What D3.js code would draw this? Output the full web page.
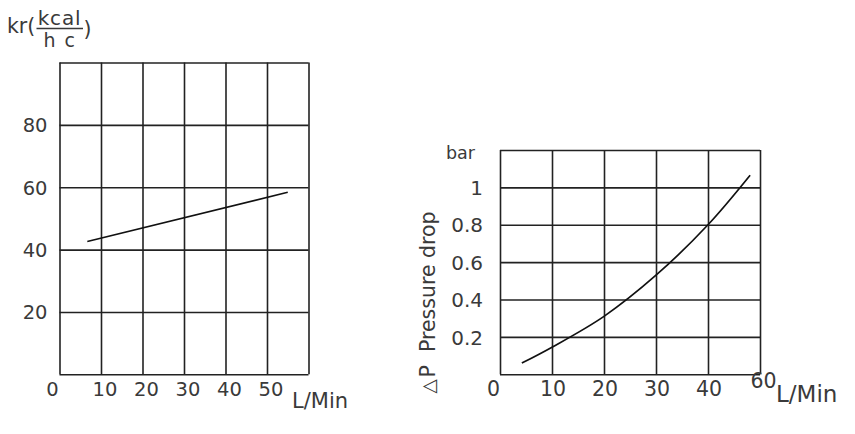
<!DOCTYPE html>
<html><head><meta charset="utf-8">
<script src="https://cdn.jsdelivr.net/npm/d3@7"></script>
<style>
body{margin:0;background:#fff}
svg text{font-family:"DejaVu Sans",sans-serif;fill:#3a3a3a}
</style>
</head><body><svg id="c" width="855" height="434"></svg>
<script>
// ---- Left chart: kr vs flow ----
const krFlow = [6.7, 55];
const krValue = [42.6, 58.4];
const leftXTicks = [0, 10, 20, 30, 40, 50];
const leftXLabels = ["0", "10", "20", "30", "40", "50"];
const leftYTicks = [20, 40, 60, 80];
const leftYLabels = ["20", "40", "60", "80"];

// ---- Right chart: pressure drop vs flow ----
const dropFlow = [4.2, 10, 20, 30, 40, 48.1];
const dropBar = [0.06, 0.145, 0.31, 0.53, 0.8, 1.065];
const rightXTicks = [0, 10, 20, 30, 40, 50];
const rightXLabels = ["0", "10", "20", "30", "40", "60"];
const rightYTicks = [0.2, 0.4, 0.6, 0.8, 1.0];
const rightYLabels = ["0.2", "0.4", "0.6", "0.8", "1"];

const svg = d3.select("#c");
const LINE = "#222";

function grid(g, x, y, xs, ys) {
  const [x0, x1] = x.range(), [y0, y1] = y.range();
  g.append("g").attr("transform", `translate(0,${y0})`)
    .call(d3.axisBottom(x).tickValues(xs).tickSize(-(y0 - y1)).tickSizeOuter(0).tickFormat(""))
    .call(s => s.select(".domain").remove())
    .selectAll("line").attr("stroke", LINE).attr("stroke-width", 1.6);
  g.append("g").attr("transform", `translate(${x0},0)`)
    .call(d3.axisLeft(y).tickValues(ys).tickSize(-(x1 - x0)).tickSizeOuter(0).tickFormat(""))
    .call(s => s.select(".domain").remove())
    .selectAll("line").attr("stroke", LINE).attr("stroke-width", 1.6);
}

// ================= LEFT =================
{
  const x = d3.scaleLinear().domain([0, 60]).range([59.5, 308.5]);
  const y = d3.scaleLinear().domain([0, 100]).range([374.3, 62.5]);
  const g = svg.append("g");
  grid(g, x, y, d3.range(0, 61, 10), d3.range(0, 101, 20));

  const xa = g.append("g").attr("transform", `translate(0,${y(0)})`)
    .call(d3.axisBottom(x).tickValues(leftXTicks).tickSize(0)
      .tickFormat((d, i) => leftXLabels[i]));
  xa.select(".domain").remove();
  xa.selectAll("text").attr("y", 21.5).attr("dy", null)
    .attr("dx", (d, i) => i === 0 ? -7.5 : 3.5)
    .style("font-size", "19.5px").style("font-family", "DejaVu Sans").attr("fill", "#3a3a3a");

  const ya = g.append("g").attr("transform", `translate(${x(0)},0)`)
    .call(d3.axisLeft(y).tickValues(leftYTicks).tickSize(0)
      .tickFormat((d, i) => leftYLabels[i]));
  ya.select(".domain").remove();
  ya.selectAll("text").attr("x", -12).attr("dy", "0.36em")
    .style("font-size", "19.5px").style("font-family", "DejaVu Sans").attr("fill", "#3a3a3a");

  const pts = krFlow.map((f, i) => [f, krValue[i]]);
  g.append("path").attr("d", d3.line().x(d => x(d[0])).y(d => y(d[1]))(pts))
    .attr("fill", "none").attr("stroke", "#111").attr("stroke-width", 1.7);

  g.append("text").attr("x", 292).attr("y", 408).style("font-size", "21px").text("L/Min");

  // title kr(kcal / h c)
  g.append("text").attr("x", 7).attr("y", 33).style("font-size", "20.5px").text("kr(");
  g.append("text").attr("x", 59.5).attr("y", 24.5).attr("text-anchor", "middle").style("font-size", "20px")
    .attr("letter-spacing", "0.8px").text("kcal");
  g.append("line").attr("x1", 36.5).attr("x2", 83).attr("y1", 28.5).attr("y2", 28.5)
    .attr("stroke", "#3a3a3a").attr("stroke-width", 1.4);
  g.append("text").attr("x", 60).attr("y", 47).attr("text-anchor", "middle").style("font-size", "19px")
    .attr("letter-spacing", "1.5px").text("h c");
  g.append("text").attr("x", 83.5).attr("y", 36).style("font-size", "20.5px").text(")");
}

// ================= RIGHT =================
{
  const x = d3.scaleLinear().domain([0, 50]).range([500, 760]);
  const y = d3.scaleLinear().domain([0, 1.2]).range([374.3, 150]);
  const g = svg.append("g");
  grid(g, x, y, d3.range(0, 51, 10), d3.range(0, 1.21, 0.2));

  const xa = g.append("g").attr("transform", `translate(0,${y(0)})`)
    .call(d3.axisBottom(x).tickValues(rightXTicks).tickSize(0)
      .tickFormat((d, i) => rightXLabels[i]));
  xa.select(".domain").remove();
  xa.selectAll("text")
    .attr("y", (d, i) => i === rightXTicks.length - 1 ? 14 : 22)
    .attr("dy", null)
    .attr("dx", (d, i) => i === 0 ? -7 : (i === rightXTicks.length - 1 ? 3 : 0.5))
    .style("font-size", "20.5px").style("font-family", "DejaVu Sans").attr("fill", "#3a3a3a");

  const ya = g.append("g").attr("transform", `translate(${x(0)},0)`)
    .call(d3.axisLeft(y).tickValues(rightYTicks).tickSize(0)
      .tickFormat((d, i) => rightYLabels[i]));
  ya.select(".domain").remove();
  ya.selectAll("text").attr("x", -17).attr("dy", "0.36em")
    .style("font-size", "20px").style("font-family", "DejaVu Sans").attr("fill", "#3a3a3a");

  const pts = dropFlow.map((f, i) => [f, dropBar[i]]);
  g.append("path").attr("d", d3.line().curve(d3.curveCatmullRom.alpha(0.5)).x(d => x(d[0])).y(d => y(d[1]))(pts))
    .attr("fill", "none").attr("stroke", "#111").attr("stroke-width", 1.7);

  g.append("text").attr("x", 446).attr("y", 158.5).style("font-size", "17.5px").text("bar");
  g.append("text").attr("x", 776).attr("y", 401.5).style("font-size", "23px").text("L/Min");

  g.append("text").attr("transform", "translate(435,352) rotate(-90)")
    .style("font-size", "20.5px").text("Pressure drop");
  g.append("text").attr("transform", "translate(435,377.5) rotate(-90)")
    .style("font-size", "20.5px").text("P");
  g.append("text").attr("transform", "translate(434.5,393.5) rotate(-90)")
    .style("font-size", "18.5px").text("△");
}
</script>
</body></html>
